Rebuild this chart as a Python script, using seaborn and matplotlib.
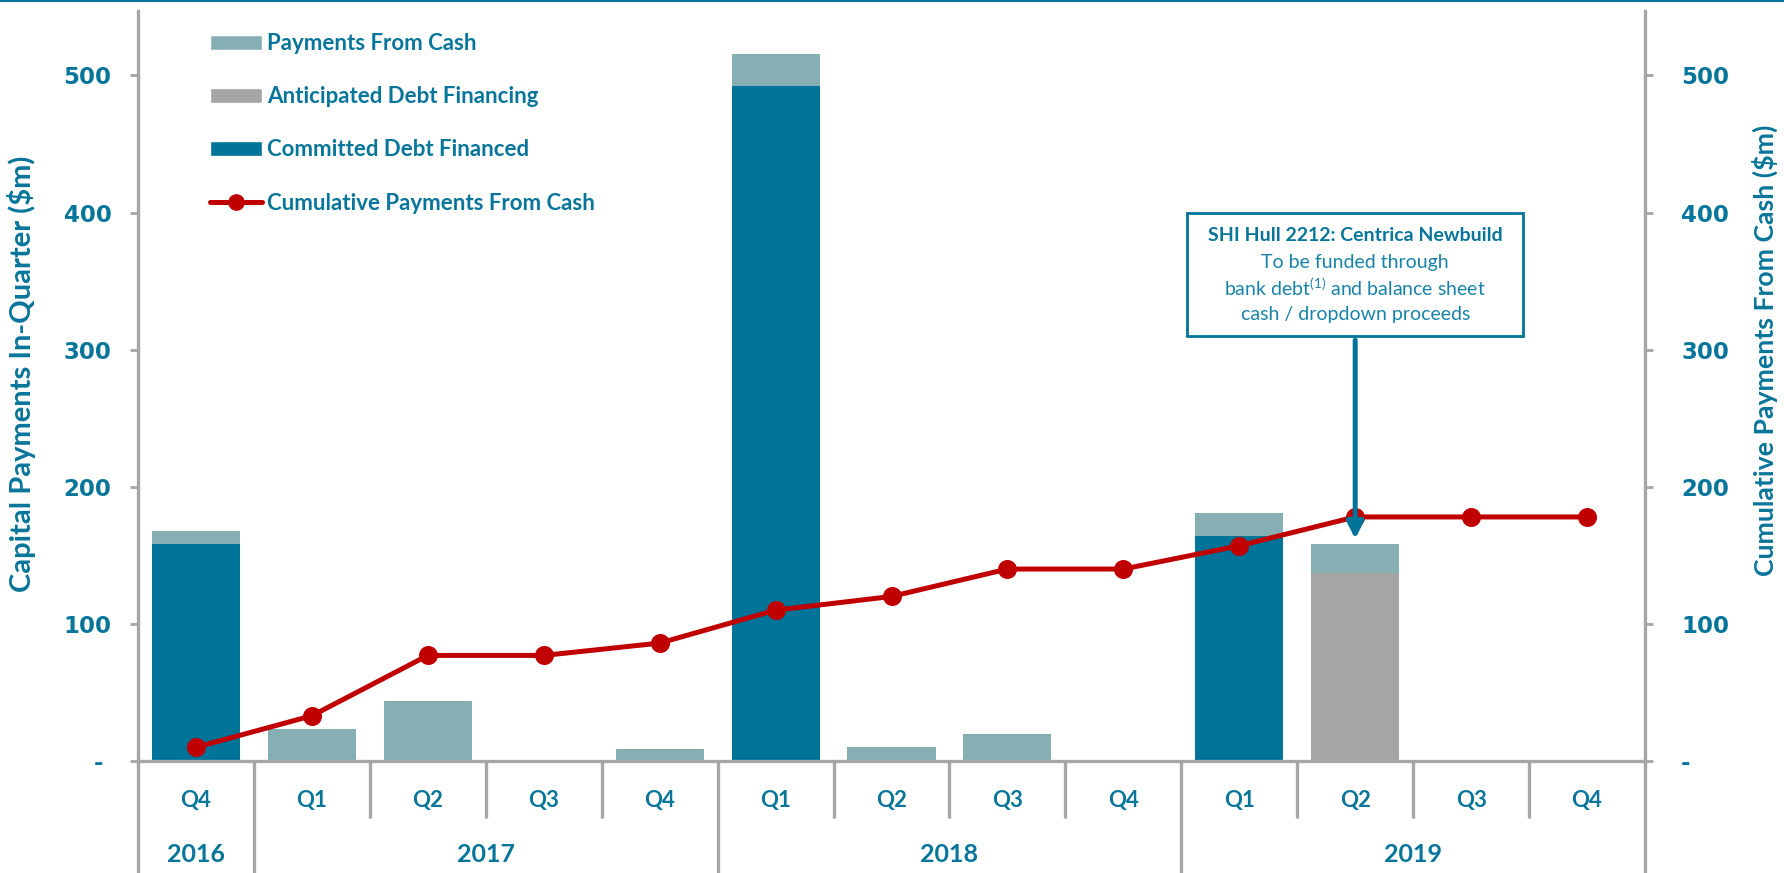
import matplotlib
matplotlib.use("Agg")
import matplotlib.pyplot as plt
import matplotlib.transforms as mtransforms
from matplotlib.patches import Patch, Rectangle
from matplotlib.lines import Line2D
import pandas as pd
import seaborn as sns

# ---- data -------------------------------------------------------------
quarters = ["Q4", "Q1", "Q2", "Q3", "Q4", "Q1", "Q2", "Q3", "Q4", "Q1", "Q2", "Q3", "Q4"]
quarter_years = ["2016", "2017", "2017", "2017", "2017", "2018", "2018", "2018", "2018",
                 "2019", "2019", "2019", "2019"]
year_labels = ["2016", "2017", "2018", "2019"]
payments_from_cash = [10, 23, 44, 0, 9, 24, 10, 20, 0, 17, 21, 0, 0]
committed_debt = [158, 0, 0, 0, 0, 492, 0, 0, 0, 164, 0, 0, 0]
anticipated_debt = [0, 0, 0, 0, 0, 0, 0, 0, 0, 0, 137, 0, 0]
cumulative_cash = [10, 33, 77, 77, 86, 110, 120, 140, 140, 157, 178, 178, 178]
y_ticks = [0, 100, 200, 300, 400, 500]
y_tick_labels = ["- ", "100", "200", "300", "400", "500"]

callout_title = "SHI Hull 2212: Centrica Newbuild"
callout_lines = ["To be funded through",
                 "bank debt$^{(1)}$ and balance sheet",
                 "cash / dropdown proceeds"]
callout_quarter = 10  # Q2 2019

# ---- style ------------------------------------------------------------
TEXT = "#08759A"
TEXT_LIGHT = "#1883A8"
TEAL = "#007398"
CASH = "#86AFB4"
GREY_BAR = "#A5A5A5"
AXIS = "#A6A6A6"
RED = "#C00000"

sns.set_theme(style="white")
plt.rcParams["font.family"] = ["Lato", "DejaVu Sans"]
plt.rcParams["mathtext.fontset"] = "custom"
plt.rcParams["mathtext.rm"] = "Lato"
plt.rcParams["mathtext.default"] = "regular"

periods = [f"{q} {y}" for q, y in zip(quarters, quarter_years)]
df = pd.DataFrame({
    "period": periods,
    "cash": payments_from_cash,
    "committed": committed_debt,
    "anticipated": anticipated_debt,
    "cumulative": cumulative_cash,
})
df["total"] = df["cash"] + df["committed"] + df["anticipated"]

W, H = 1784, 873
fig = plt.figure(figsize=(W / 100, H / 100), dpi=100)
ax = fig.add_axes([138 / W, 112 / H, 1507 / W, 750 / H])

bar_kw = dict(order=periods, width=0.76, saturation=1, errorbar=None, ax=ax, linewidth=0)
sns.barplot(data=df, x="period", y="total", color=CASH, **bar_kw)
sns.barplot(data=df, x="period", y="committed", color=TEAL, **bar_kw)
sns.barplot(data=df, x="period", y="anticipated", color=GREY_BAR, **bar_kw)

ax2 = ax.twinx()
sns.pointplot(data=df, x="period", y="cumulative", order=periods, color=RED,
              markers="o", linestyles="-", errorbar=None, ax=ax2,
              markersize=11, linewidth=3.6)

n = len(periods)
for a in (ax, ax2):
    a.set_xlim(-0.5, n - 0.5)
    a.set_ylim(0, 547)
    a.set_yticks(y_ticks)
    a.set_xlabel("")
    a.grid(False)
ax.set_xticks([])
ax.set_yticklabels(y_tick_labels)
ax2.set_yticklabels([t.strip() for t in y_tick_labels])

for a in (ax, ax2):
    for s in a.spines.values():
        s.set_visible(False)
        s.set_color(AXIS)
        s.set_linewidth(2.4)
    a.tick_params(axis="y", direction="out", length=6, width=2, color=AXIS,
                  labelsize=16.5, labelcolor=TEXT)
    for lab in a.get_yticklabels():
        lab.set_fontfamily("DejaVu Sans")
        lab.set_fontweight("bold")
ax.spines["left"].set_visible(True)
ax.spines["bottom"].set_visible(True)
ax2.spines["right"].set_visible(True)
ax.tick_params(axis="y", pad=13)
ax2.tick_params(axis="y", pad=20)

ax.set_ylabel("Capital Payments In-Quarter ($m)", fontsize=21, fontweight="bold", color=TEXT)
ax.yaxis.set_label_coords(-0.0677, 0.516)
ax2.set_ylabel("Cumulative Payments From Cash ($m)", fontsize=19.2, fontweight="bold",
               color=TEXT, rotation=90)
ax2.yaxis.set_label_coords(1.071, 0.548)

# ---- two-level category axis -----------------------------------------
trans = mtransforms.blended_transform_factory(ax.transData, ax.transAxes)
year_bounds = [-0.5]
pos = -0.5
for y in year_labels:
    pos += quarter_years.count(y)
    year_bounds.append(pos)
for k in range(n + 1):
    x = k - 0.5
    bottom = -0.1493 if x in year_bounds else -0.076
    ax.plot([x, x], [0, bottom], transform=trans, color=AXIS, lw=2.4,
            clip_on=False, solid_capstyle="butt")
for i, q in enumerate(quarters):
    ax.text(i, -0.052, q, transform=trans, ha="center", va="center",
            fontsize=16, fontweight="bold", color=TEXT)
for y, lo, hi in zip(year_labels, year_bounds[:-1], year_bounds[1:]):
    ax.text((lo + hi) / 2, -0.125, y, transform=trans, ha="center", va="center",
            fontsize=18, fontweight="bold", color=TEXT)

# ---- callout ----------------------------------------------------------
cx = callout_quarter
ax2.add_patch(Rectangle((cx - 1.45, 310), 2.9, 90, facecolor="white",
                        edgecolor=TEAL, lw=2, zorder=6))
ax2.text(cx, 383.4, callout_title, ha="center", va="center", fontsize=14,
         fontweight="bold", color=TEXT, zorder=7)
for yy, line in zip([363.5, 345.0, 326.0], callout_lines):
    ax2.text(cx, yy, line, ha="center", va="center", fontsize=14, color=TEXT_LIGHT, zorder=7)
ax2.annotate("", xy=(cx, 162), xytext=(cx, 307),
             arrowprops=dict(arrowstyle="-|>,head_width=0.25,head_length=0.5",
                             lw=3.6, color=TEAL, shrinkA=0, shrinkB=0,
                             mutation_scale=20), zorder=8)

# ---- legend -----------------------------------------------------------
handles = [Patch(facecolor=CASH), Patch(facecolor=GREY_BAR), Patch(facecolor=TEAL),
           Line2D([], [], color=RED, lw=3.6, marker="o", markersize=11)]
labels = ["Payments From Cash", "Anticipated Debt Financing", "Committed Debt Financed",
          "Cumulative Payments From Cash"]
leg = fig.legend(handles, labels, loc="upper left", bbox_to_anchor=(210 / W, 1 - 33 / H),
                 frameon=False, borderpad=0, borderaxespad=0, handlelength=2.35,
                 handleheight=0.65, handletextpad=0.2, labelspacing=1.45,
                 prop=dict(family="Lato", weight="bold", size=16))
for t in leg.get_texts():
    t.set_color(TEXT)

fig.add_artist(Line2D([0, 1], [0.999, 0.999], transform=fig.transFigure, color=TEAL, lw=1.5))

fig.savefig("out.png", dpi=100)
